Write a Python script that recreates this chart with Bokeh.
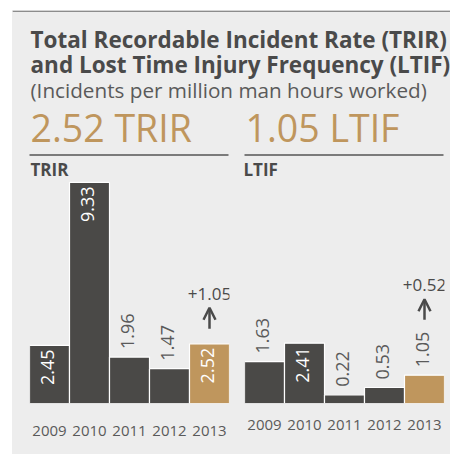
import math

from bokeh.core.properties import value
from bokeh.embed import file_html
from bokeh.layouts import column, row
from bokeh.models import Arrow, ColumnDataSource, FixedTicker, OpenHead, Range1d
from bokeh.plotting import figure
from bokeh.resources import INLINE

# ---- data -----------------------------------------------------------------
years = ["2009", "2010", "2011", "2012", "2013"]
trir = [2.45, 9.33, 1.96, 1.47, 2.52]
ltif = [1.63, 2.41, 0.22, 0.53, 1.05]

title_lines = ["Total Recordable Incident Rate (TRIR)",
               "and Lost Time Injury Frequency (LTIF)"]
subtitle = "(Incidents per million man hours worked)"

# ---- style ----------------------------------------------------------------
BG = "#ededed"
DARK = "#4a4947"
GOLD = "#bf965d"
TEXT = "#4a4a4a"
MUTED = "#5a5a5a"
FONT = value("Open Sans")


def cap_mid(baseline, size):
    """Vertical centre of capitals for a given baseline and font size (px)."""
    return baseline - 0.36 * size


def header_panel():
    w, h = 438, 170
    p = figure(width=w, height=h, x_range=Range1d(0, w), y_range=Range1d(h, 0),
               output_backend="svg", toolbar_location=None,
               x_axis_location=None, y_axis_location=None,
               min_border=0, background_fill_color=BG, border_fill_color=BG,
               outline_line_color=None)
    p.grid.visible = False

    # top rule of the panel
    p.segment(x0=[0], y0=[0.75], x1=[w], y1=[0.75], line_color="#8c8c8c", line_width=1.5)

    p.text(x=[18, 18], y=[cap_mid(36.7, 22.5), cap_mid(61.7, 22.5)], text=title_lines,
           text_font=FONT, text_font_style="bold", text_font_size="22.5px",
           text_color=TEXT, text_baseline="middle")
    p.text(x=[18], y=[cap_mid(86.7, 20.7)], text=[subtitle], text_font=FONT,
           text_font_size="20.7px", text_color=MUTED, text_baseline="middle")

    # headline figures for the latest year
    p.text(x=[18, 233], y=[cap_mid(130, 37.5)] * 2,
           text=[f"{trir[-1]:.2f} TRIR", f"{ltif[-1]:.2f} LTIF"],
           text_font=FONT, text_font_size="37.5px", text_color=GOLD,
           text_baseline="middle")

    # rules under the headline figures
    p.segment(x0=[17, 232], y0=[144.5, 144.5], x1=[216, 431], y1=[144.5, 144.5],
              line_color="#555555", line_width=1.5)

    p.text(x=[18, 231], y=[cap_mid(165, 17)] * 2, text=["TRIR", "LTIF"], text_font=FONT,
           text_font_style="bold", text_font_size="17px", text_color=TEXT,
           text_baseline="middle")
    return p


def bar_panel(values, width, border_left, border_right, border_bottom,
              y0, px_per_unit, standoff):
    height = 274
    frame_h = height - border_bottom
    y1 = y0 + frame_h / px_per_unit
    p = figure(width=width, height=height,
               x_range=Range1d(-0.5, 4.5), y_range=Range1d(y0, y1),
               output_backend="svg", toolbar_location=None, y_axis_location=None,
               min_border_left=border_left, min_border_right=border_right,
               min_border_top=0, min_border_bottom=border_bottom,
               background_fill_color=BG, border_fill_color=BG,
               outline_line_color=None)
    p.grid.visible = False

    ax = p.xaxis[0]
    ax.ticker = FixedTicker(ticks=list(range(len(years))))
    ax.major_label_overrides = {i: y for i, y in enumerate(years)}
    ax.axis_line_color = None
    ax.major_tick_line_color = None
    ax.minor_tick_line_color = None
    ax.major_label_text_font = "Open Sans"
    ax.major_label_text_font_size = "15px"
    ax.major_label_text_color = MUTED
    ax.major_label_standoff = standoff

    idx = list(range(len(values)))
    colors = [DARK] * (len(values) - 1) + [GOLD]
    p.vbar(x="x", top="top", bottom=y0, width=1.0, fill_color="color",
           line_color="white", line_width=1.2,
           source=ColumnDataSource(dict(x=idx, top=values, color=colors)))

    # value labels: inside tall bars, above short ones
    inside = [(v - y0) * px_per_unit > 50 for v in values]
    xi = [i for i, f in zip(idx, inside) if f]
    vi = [v for v, f in zip(values, inside) if f]
    xo = [i for i, f in zip(idx, inside) if not f]
    vo = [v for v, f in zip(values, inside) if not f]
    p.text(x=xi, y=vi, text=[f"{v:.2f}" for v in vi], angle=math.pi / 2,
           text_align="right", text_baseline="middle", x_offset=-2, y_offset=4,
           text_font=FONT, text_font_size="18px", text_color="white")
    p.text(x=xo, y=vo, text=[f"{v:.2f}" for v in vo], angle=math.pi / 2,
           text_align="left", text_baseline="middle", x_offset=-2, y_offset=-8,
           text_font=FONT, text_font_size="18px", text_color=MUTED)

    # change versus previous year, with an arrow above the latest bar
    last = values[-1]
    delta = values[-1] - values[-2]
    lift = 0 if inside[-1] else 42
    ys = last + (lift + 15) / px_per_unit
    ye = ys + 21 / px_per_unit
    p.add_layout(Arrow(end=OpenHead(size=12, line_width=2.5, line_color=TEXT),
                       x_start=4, y_start=ys, x_end=4, y_end=ye,
                       line_width=2.5, line_color=TEXT))
    p.text(x=[4], y=[ye], text=[f"{'+' if delta >= 0 else ''}{delta:.2f}"],
           y_offset=-8 - 0.36 * 17, text_align="center", text_baseline="middle",
           text_font=FONT, text_font_size="17px", text_color=TEXT)
    return p


header = header_panel()
left = bar_panel(trir, 224, 17, 7, 51, 0.0, 23.7, 16)
right = bar_panel(ltif, 214, 8, 6, 45, -0.15, 24.2, 10)

panels = row(left, right, styles={"background-color": BG})
layout = column(header, panels, margin=(10, 0, 0, 12),
                styles={"background-color": BG})

open("out.html", "w").write(file_html(layout, INLINE))
